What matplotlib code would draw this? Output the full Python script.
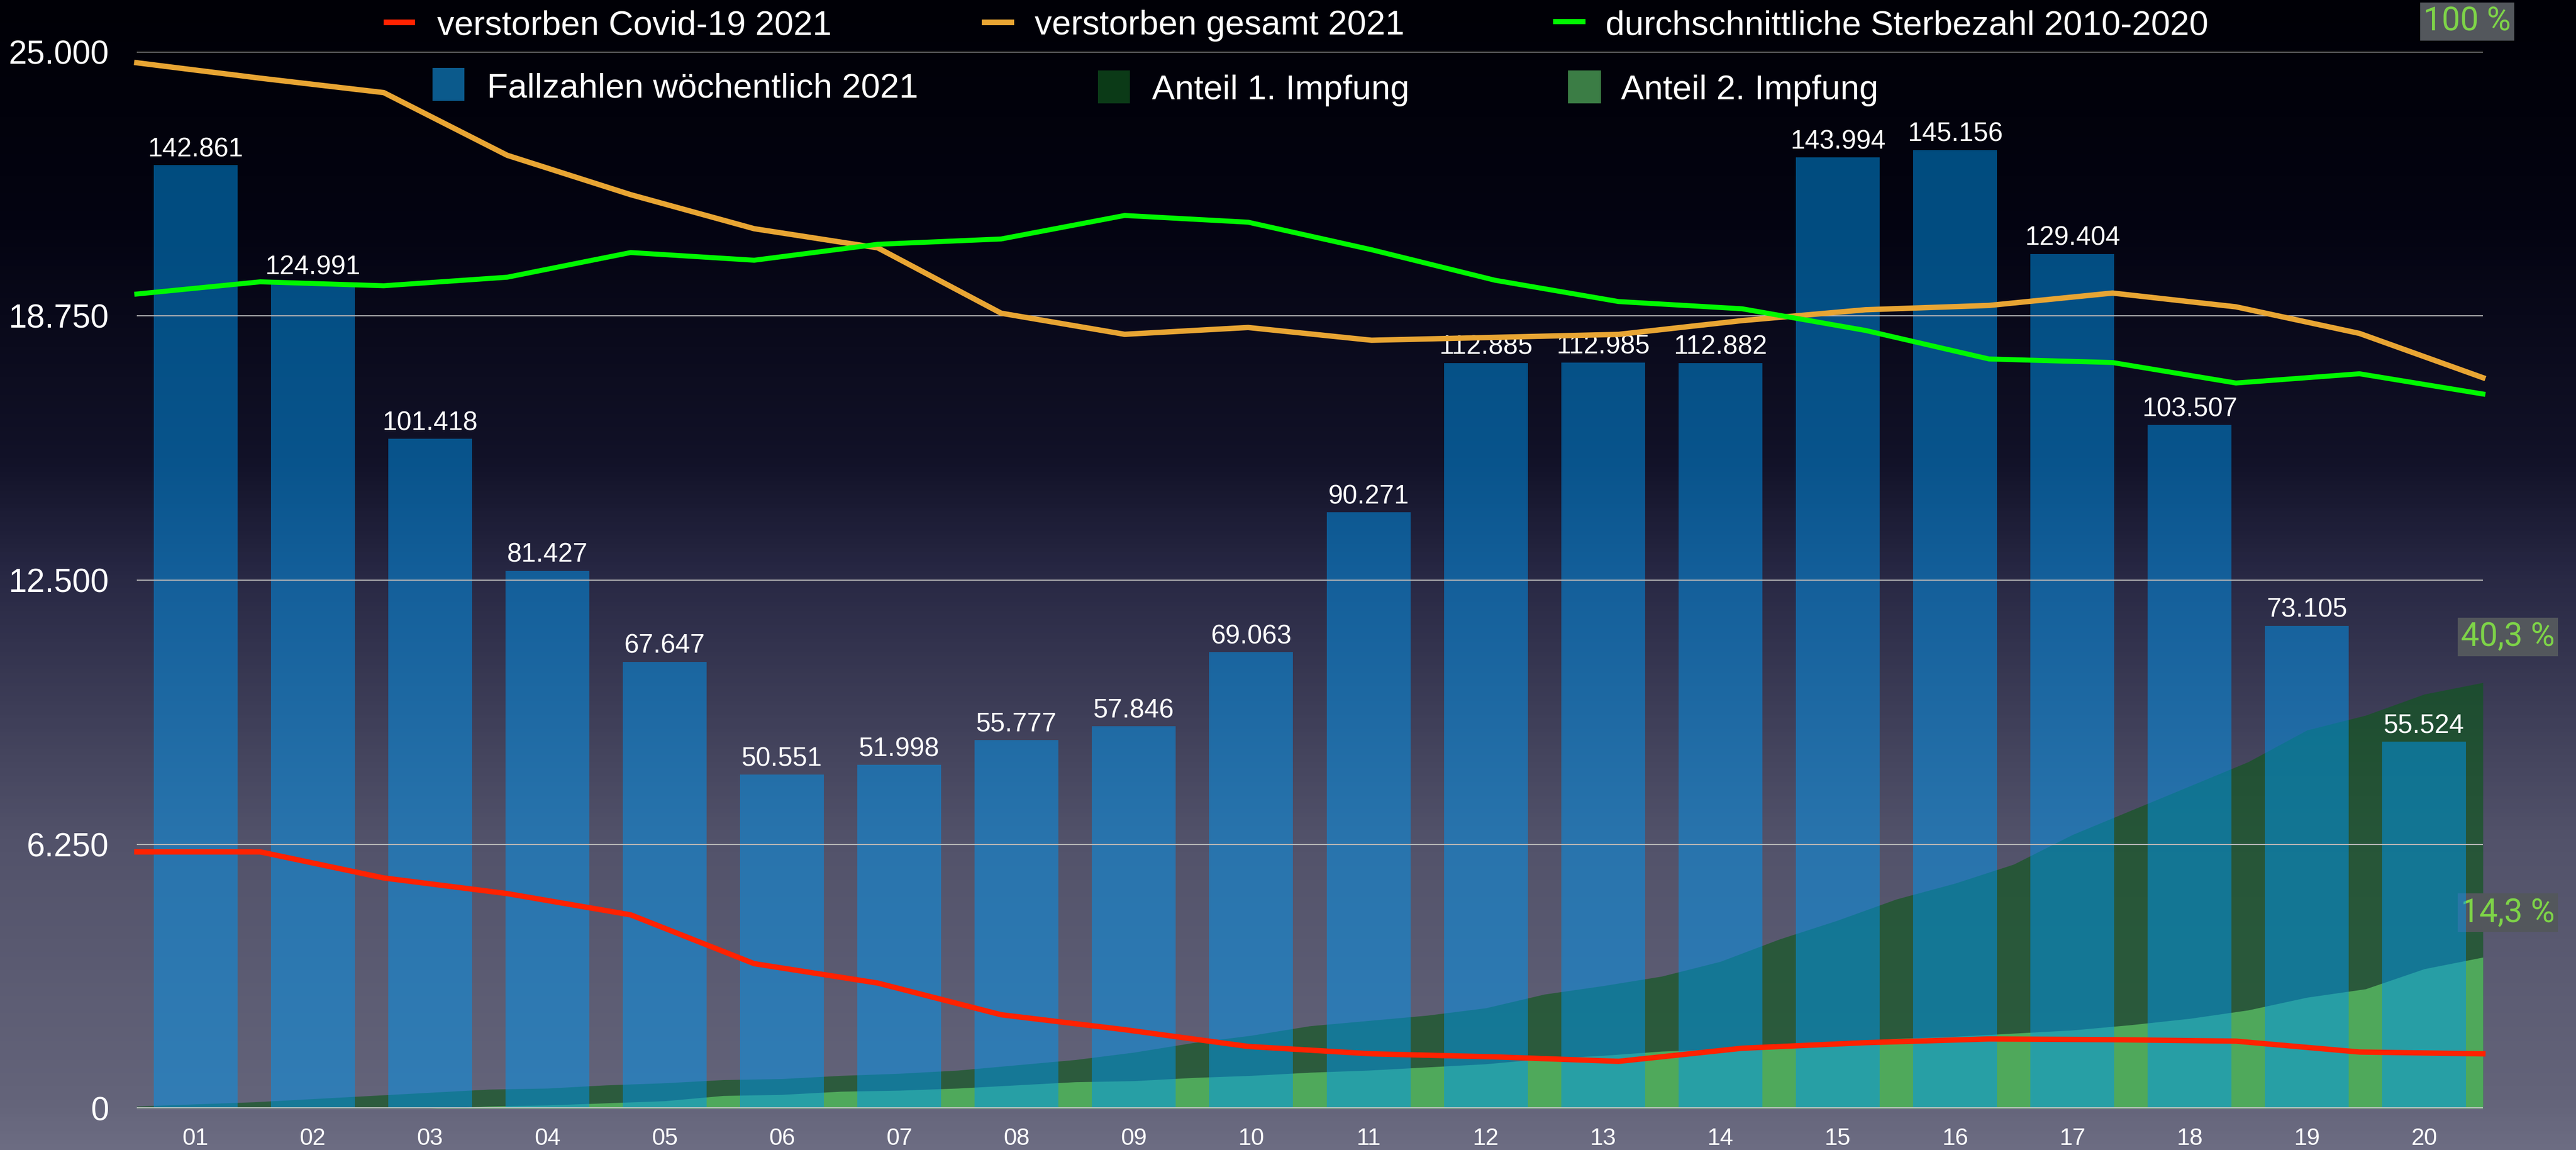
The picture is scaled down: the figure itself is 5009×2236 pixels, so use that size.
import numpy as np
import matplotlib.pyplot as plt
from matplotlib.colors import LinearSegmentedColormap
from matplotlib.patches import Rectangle

plt.rcParams['font.family'] = ['Liberation Sans', 'DejaVu Sans']

# weekly data 2021, KW 01 - 20
weeks = ['01', '02', '03', '04', '05', '06', '07', '08', '09', '10',
         '11', '12', '13', '14', '15', '16', '17', '18', '19', '20']
cases = [142861, 124991, 101418, 81427, 67647, 50551, 51998, 55777, 57846, 69063,
         90271, 112885, 112985, 112882, 143994, 145156, 129404, 103507, 73105, 55524]
deaths_covid = [6069, 6069, 5452, 5082, 4579, 3424, 2965, 2215, 1862, 1465,
                1290, 1218, 1112, 1422, 1554, 1642, 1625, 1590, 1333, 1290]
deaths_total = [24744, 24379, 24038, 22554, 21622, 20817, 20365, 18817, 18318, 18479,
                18177, 18246, 18316, 18642, 18899, 19001, 19294, 18968, 18339, 17291]
deaths_avg = [19271, 19560, 19467, 19669, 20253, 20071, 20448, 20574, 21130, 20971,
              20319, 19597, 19093, 18922, 18409, 17734, 17650, 17165, 17384, 16905]

# vaccination share in percent, read every half week
vacc_first = [0.2, 0.4, 0.6, 0.9, 1.2, 1.5, 1.8, 1.9, 2.2, 2.4, 2.7,
              2.8, 3.1, 3.3, 3.6, 4.1, 4.6, 5.3, 6.2, 6.9, 7.8,
              8.3, 8.8, 9.5, 10.8, 11.6, 12.5, 13.9, 16.0, 17.8, 19.8,
              21.3, 23.1, 25.9, 28.2, 30.5, 32.8, 35.8, 37.2, 39.2, 40.3]
vacc_second = [0.0, 0.0, 0.0, 0.0, 0.0, 0.0, 0.2, 0.3, 0.5, 0.7, 1.2,
               1.3, 1.6, 1.7, 1.9, 2.2, 2.5, 2.6, 2.9, 3.1, 3.4,
               3.6, 3.9, 4.2, 4.7, 5.0, 5.4, 5.6, 6.0, 6.2, 6.6,
               6.8, 7.1, 7.4, 7.9, 8.5, 9.3, 10.5, 11.3, 13.2, 14.3]

yticks = [0, 6250, 12500, 18750, 25000]


def de(v):
    return f'{int(v):,}'.replace(',', '.')


def pct(v):
    return f'{v:.1f}'.replace('.', ',') + ' %' if v < 100 else f'{v:.0f} %'


W, H = 5009, 2236
fig = plt.figure(figsize=(W / 100, H / 100), dpi=100)

# background gradient
bg = fig.add_axes([0, 0, 1, 1])
bg.axis('off')
cmap = LinearSegmentedColormap.from_list('bg', [
    (0.0, (0 / 255, 0 / 255, 6 / 255)),
    (0.2, (4 / 255, 4 / 255, 18 / 255)),
    (0.4, (18 / 255, 18 / 255, 40 / 255)),
    (0.5, (40 / 255, 40 / 255, 68 / 255)),
    (0.73, (82 / 255, 82 / 255, 106 / 255)),
    (0.96, (100 / 255, 100 / 255, 122 / 255)),
    (1.0, (108 / 255, 108 / 255, 130 / 255))])
bg.imshow(np.linspace(0, 1, 600).reshape(-1, 1), aspect='auto', cmap=cmap,
          extent=[0, 1, 0, 1])

rect = [266 / W, 1 - 2155 / H, (4828 - 266) / W, (2155 - 101) / H]
x = np.arange(1, 21)

# vaccination areas (0-100 %)
ax_v = fig.add_axes(rect)
ax_v.axis('off')
ax_v.set_xlim(0.5, 20.5)
ax_v.set_ylim(0, 100)
vx = np.linspace(0.5, 20.5, len(vacc_first))
ax_v.fill_between(vx, vacc_first, color='#0e581c', alpha=0.64, lw=0)
ax_v.fill_between(vx, vacc_second, color='#56b761', alpha=0.85, lw=0)

# weekly cases (0-160.000)
ax_b = fig.add_axes(rect)
ax_b.axis('off')
ax_b.set_xlim(0.5, 20.5)
ax_b.set_ylim(0, 160000)
ax_b.bar(x, cases, width=0.715, color='#0096f0', alpha=0.5, lw=0)
for xi, c in zip(x, cases):
    ax_b.annotate(de(c), (xi, c), xytext=(0, 6), textcoords='offset pixels',
                  ha='center', va='bottom', fontsize=37, color='white')

# deaths
ax = fig.add_axes(rect)
ax.set_facecolor('none')
ax.set_xlim(0.5, 20.5)
ax.set_ylim(0, 25000)
for s in ax.spines.values():
    s.set_visible(False)
ax.set_axisbelow(True)
ax.yaxis.grid(True, color='#b4b4b4', lw=1.5)
ax.axhline(0, color='#c8c8c8', lw=3.6, zorder=1)
lx = np.linspace(0.5, 20.5, len(deaths_total))
ax.plot(lx, deaths_covid, color='#ff2200', lw=7.5, clip_on=False, zorder=3)
ax.plot(lx, deaths_total, color='#e8a533', lw=7.5, clip_on=False, zorder=3)
ax.plot(lx, deaths_avg, color='#00f800', lw=7, clip_on=False, zorder=3)
ax.set_yticks(yticks)
ax.set_yticklabels([de(v) for v in yticks])
ax.set_xticks(x)
ax.set_xticklabels(weeks)
ax.tick_params(axis='y', length=0, pad=39, labelsize=46, colors='white')
ax.tick_params(axis='x', length=0, pad=27, labelsize=33, colors='white')

# percent labels
pfont = dict(family=['Roboto', 'DejaVu Sans'], fontsize=46,
             color='#7ed448', ha='left', va='center')
box = dict(boxstyle='square,pad=0.1', fc='#53575c', ec='none')
ax_v.annotate(pct(100), (20.5, 100), xytext=(-116, 59), textcoords='offset pixels',
              bbox=box, annotation_clip=False, **pfont)
ax_v.annotate(pct(vacc_first[-1]), (20.5, vacc_first[-1]), xytext=(-43, 89),
              textcoords='offset pixels', bbox=box, annotation_clip=False, **pfont)
ax_v.annotate(pct(vacc_second[-1]), (20.5, vacc_second[-1]), xytext=(-43, 87),
              textcoords='offset pixels', bbox=box, annotation_clip=False, **pfont)

# legend, built by hand
legend = [
    ('verstorben Covid-19 2021', '#ff2200', 746, 38, 61, 11, 850, 67),
    ('verstorben gesamt 2021', '#e8a533', 1909, 38, 63, 11, 2012, 67),
    ('durchschnittliche Sterbezahl 2010-2020', '#00f800', 3020, 37, 63, 10, 3122, 67),
    ('Fallzahlen wöchentlich 2021', '#0b5a8c', 841, 132, 62, 64, 947, 190),
    ('Anteil 1. Impfung', '#0b3a17', 2135, 137, 62, 64, 2240, 193),
    ('Anteil 2. Impfung', '#3b7d45', 3049, 137, 64, 64, 3152, 193),
]
for label, col, sx, sy, sw, sh, tx, ty in legend:
    fig.add_artist(Rectangle((sx / W, 1 - (sy + sh) / H), sw / W, sh / H,
                             transform=fig.transFigure, color=col, lw=0))
    fig.text(tx / W, 1 - ty / H, label, ha='left', va='baseline',
             fontsize=48, color='white')

fig.savefig('out.png', dpi=100)
